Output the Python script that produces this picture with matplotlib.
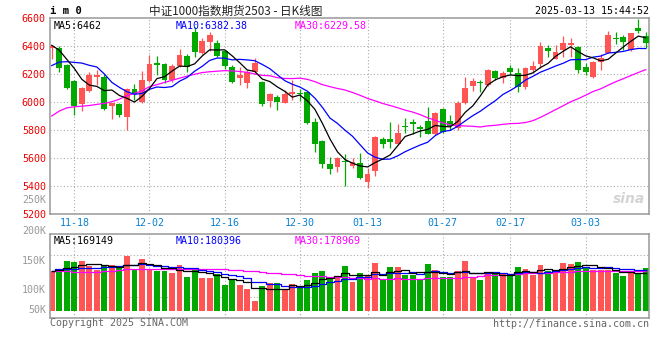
import matplotlib
matplotlib.use("Agg")
import matplotlib.pyplot as plt
import numpy as np
import pandas as pd

# daily K-line, 2024-11-13 .. 2025-03-13 (80 sessions)
opens = [6383, 6388, 6264, 6150, 5988, 6079, 6179, 6181, 5972, 5983,
         5890, 6093, 6002, 6150, 6276, 6269, 6155, 6257, 6329, 6502,
         6352, 6431, 6419, 6364, 6252, 6169, 6133, 6212, 6145, 6007,
         6038, 5995, 6057, 6065, 6074, 5859, 5724, 5555, 5538, 5578,
         5540, 5567, 5431, 5509, 5736, 5736, 5698, 5826, 5859, 5819,
         5864, 5771, 5950, 5864, 5812, 5990, 6117, 6140, 6121, 6221,
         6174, 6245, 6210, 6105, 6229, 6269, 6388, 6305, 6371, 6407,
         6395, 6252, 6176, 6283, 6352, 6458, 6467, 6371, 6531, 6474]
highs = [6407, 6400, 6270, 6158, 6108, 6217, 6225, 6200, 5995, 5990,
         6100, 6126, 6221, 6335, 6329, 6275, 6270, 6376, 6340, 6538,
         6460, 6502, 6443, 6370, 6264, 6252, 6225, 6317, 6150, 6067,
         6050, 6086, 6157, 6095, 6080, 5886, 5730, 5605, 5610, 5626,
         5600, 5638, 5526, 5755, 5752, 5859, 5840, 5888, 5879, 5836,
         5962, 5930, 5960, 5907, 6005, 6181, 6174, 6157, 6235, 6229,
         6221, 6264, 6240, 6252, 6293, 6431, 6407, 6407, 6471, 6460,
         6400, 6281, 6293, 6340, 6510, 6502, 6479, 6495, 6593, 6502]
lows = [6305, 6216, 6090, 5905, 5936, 6070, 6121, 5943, 5878, 5890,
        5800, 6017, 5990, 6145, 6193, 6133, 6145, 6250, 6217, 6324,
        6345, 6367, 6319, 6233, 6133, 6121, 6098, 6205, 5972, 5967,
        5943, 5990, 6014, 6010, 5840, 5640, 5531, 5486, 5498, 5402,
        5525, 5450, 5383, 5471, 5674, 5669, 5690, 5776, 5769, 5752,
        5771, 5765, 5776, 5800, 5800, 5983, 6079, 6074, 6115, 6157,
        6133, 6190, 6069, 6095, 6205, 6245, 6319, 6305, 6319, 6324,
        6210, 6193, 6169, 6229, 6347, 6412, 6371, 6365, 6490, 6383]
closes = [6400, 6241, 6100, 5968, 6102, 6193, 6193, 5950, 5990, 5907,
          6093, 6055, 6157, 6269, 6264, 6157, 6257, 6336, 6252, 6360,
          6436, 6479, 6331, 6257, 6145, 6193, 6217, 6281, 5983, 6057,
          6002, 6057, 6074, 6060, 5848, 5698, 5555, 5521, 5598, 5572,
          5570, 5455, 5486, 5752, 5700, 5715, 5781, 5820, 5843, 5805,
          5771, 5924, 5783, 5831, 5995, 6102, 6152, 6136, 6229, 6174,
          6210, 6217, 6110, 6245, 6260, 6400, 6364, 6360, 6424, 6424,
          6229, 6212, 6288, 6317, 6479, 6452, 6426, 6490, 6507, 6419]
# volume, thousands of lots
volumes = [179.1, 180.1, 220.5, 216.1, 220.5, 198.4, 180.1, 198.4, 202.7, 190.9,
           242.6, 183.7, 232.3, 183.7, 179.1, 179.1, 168.8, 202.7, 149.5, 188.1,
           145.2, 145.2, 164.4, 114.1, 143.6, 114.1, 96.3, 43.4, 109.7, 123.1,
           123.1, 95.1, 118.7, 102.2, 136.4, 167.3, 176.3, 146.7, 146.7, 198.4,
           127.4, 167.3, 158.5, 211.7, 137.7, 194.0, 194.0, 161.4, 161.4, 143.6,
           207.4, 180.1, 149.5, 149.5, 176.3, 220.5, 149.5, 136.4, 171.9, 171.9,
           167.3, 159.8, 194.0, 185.0, 161.4, 202.7, 176.3, 180.1, 211.7, 207.4,
           216.1, 194.0, 180.1, 183.7, 183.7, 167.3, 154.2, 167.3, 167.3, 189.6]

# moving-average values before enough history is on the chart
ma5_head = [6405, 6370, 6305, 6240]
ma10_head = [6260, 6285, 6288, 6283, 6278, 6262, 6250, 6200, 6140]
ma30_head = [5900, 5935, 5958, 5966, 5970, 5975, 5983, 5990, 6002, 6020,
             6045, 6062, 6079, 6110, 6124, 6140, 6155, 6170, 6185, 6198,
             6210, 6216, 6220, 6224, 6222, 6218, 6212, 6200, 6190]
vma5_head = [178, 183, 189, 197]
vma10_head = [179, 184, 187, 188, 189, 190, 192, 194, 197]
vma30_head = [176, 175.5, 175, 174.5, 174, 173, 172, 176, 179, 182,
              184, 185, 186, 186.5, 187, 187, 187, 186.5, 186, 185.5,
              185, 184.5, 184.5, 184, 183.5, 182, 179, 176, 174]

tick_idx = [3, 13, 23, 33, 42, 52, 61, 71]
tick_labels = ["11-18", "12-02", "12-16", "12-30", "01-13", "01-27", "02-17", "03-03"]
price_ticks = [5200, 5400, 5600, 5800, 6000, 6200, 6400, 6600]


def with_head(series, n, head):
    out = pd.Series(series).rolling(n).mean().to_numpy()
    out[:len(head)] = head
    return out


RED, GREEN = "#ff5555", "#00a800"
GRID = "#aaaaaa"
MONO = "DejaVu Sans Mono"
CJK = ["Noto Sans CJK SC", "DejaVu Sans"]

x = np.arange(len(closes))
o, h, l, c = map(np.array, (opens, highs, lows, closes))
up = c >= o
cols = np.where(up, RED, GREEN)

fig = plt.figure(figsize=(6.6, 3.6), dpi=100)
W, H = 660, 360


def px(xp, yp):
    return xp / W, 1 - yp / H


ax = fig.add_axes([50 / W, 1 - 214 / H, 599.3 / W, 196 / H])
axv = fig.add_axes([50 / W, 1 - 318 / H, 599.3 / W, 84 / H])

for a in (ax, axv):
    a.set_xlim(-0.23, 79.47)
    for s in a.spines.values():
        s.set_color("#999999")
        s.set_linewidth(1.1)
    for t in tick_idx:
        a.axvline(t, color=GRID, lw=0.8, ls=(0, (1, 2)), zorder=0)

# candles
ax.vlines(x, l, h, colors=cols, lw=0.9, zorder=2)
body = np.maximum(np.abs(c - o), 6)
ax.bar(x, body, bottom=np.minimum(o, c), width=0.78, color=cols, zorder=3)

ma5 = with_head(closes, 5, ma5_head)
ma10 = with_head(closes, 10, ma10_head)
ma30 = with_head(closes, 30, ma30_head)
ax.plot(x, ma30, color="#ff00ff", lw=0.9, zorder=4)
ax.plot(x, ma10, color="#0000ff", lw=0.9, zorder=4)
ax.plot(x, ma5, color="#000000", lw=0.9, zorder=5)

ax.set_ylim(5200, 6600)
for v in price_ticks[1:-1]:
    ax.axhline(v, color=GRID, lw=0.8, ls=(0, (1, 2)), zorder=0)
ax.set_yticks(price_ticks)
ax.set_yticklabels([str(v) for v in price_ticks], color="#ee0000", family=MONO, fontsize=7.2)
ax.set_xticks(tick_idx)
ax.set_xticklabels(tick_labels, color="#0a80d0", family=MONO, fontsize=7.2)
ax.tick_params(length=0, pad=3)

ax.text(0.006, 0.985, "MA5:6462", transform=ax.transAxes, va="top", family=MONO, fontsize=7.2, color="black")
ax.text(0.209, 0.985, "MA10:6382.38", transform=ax.transAxes, va="top", family=MONO, fontsize=7.2, color="#0000ff")
ax.text(0.409, 0.985, "MA30:6229.58", transform=ax.transAxes, va="top", family=MONO, fontsize=7.2, color="#ff00ff")
ax.text(0.993, 0.04, "sina", transform=ax.transAxes, ha="right", va="bottom", fontsize=10,
        style="italic", weight="bold", color="#d4d4d4", zorder=1)

# volume
axv.bar(x, volumes, width=0.78, color=cols, zorder=2)
vma5 = with_head(volumes, 5, vma5_head)
vma10 = with_head(volumes, 10, vma10_head)
vma30 = with_head(volumes, 30, vma30_head)
axv.plot(x, vma30, color="#ff00ff", lw=0.9, drawstyle="steps-mid", zorder=3)
axv.plot(x, vma10, color="#0000ff", lw=0.9, drawstyle="steps-mid", zorder=3)
axv.plot(x, vma5, color="black", lw=0.9, drawstyle="steps-mid", zorder=4)
axv.set_ylim(-31, 341)
for fy in (0.25, 0.75):
    axv.plot([0, 1], [fy, fy], transform=axv.transAxes, color=GRID, lw=0.8, ls=(0, (1, 2)), zorder=0)
axv.set_xticks([])
axv.set_yticks([])
axv.text(0.006, 0.975, "MA5:169149", transform=axv.transAxes, va="top", family=MONO, fontsize=7.2, color="black")
axv.text(0.209, 0.975, "MA10:180396", transform=axv.transAxes, va="top", family=MONO, fontsize=7.2, color="#0000ff")
axv.text(0.409, 0.975, "MA30:178969", transform=axv.transAxes, va="top", family=MONO, fontsize=7.2, color="#ff00ff")

for lab, yp in [("250K", 200), ("200K", 231), ("150K", 261), ("100K", 290), ("50K", 310)]:
    fig.text(*px(46, yp), lab, ha="right", va="center", family=MONO, fontsize=7.2, color="#999999")

# header / footer
fig.text(*px(50, 11.5), "i m 0", ha="left", va="center", family=MONO, weight="bold", fontsize=7.6, color="black")
fig.text(*px(236, 11.5), "中证1000指数期货2503 - 日K线图", ha="center", va="center",
         family=CJK, fontsize=8.4, color="#222222")
fig.text(*px(649, 11.5), "2025-03-13 15:44:52", ha="right", va="center", family=MONO, fontsize=7.2, color="black")
fig.text(*px(50, 323.5), "Copyright 2025 SINA.COM", ha="left", va="center", family=MONO, fontsize=7.2, color="#666666")
fig.text(*px(649, 324), "http://finance.sina.com.cn", ha="right", va="center", family=MONO, fontsize=7.2, color="#666666")

fig.savefig("out.png", dpi=100)
